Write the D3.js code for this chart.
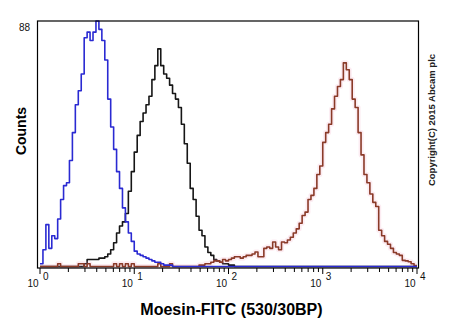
<!DOCTYPE html>
<html>
<head>
<meta charset="utf-8">
<script src="https://cdn.jsdelivr.net/npm/d3@7"></script>
<style>
  html, body { margin: 0; padding: 0; background: #fff; }
  svg { display: block; font-family: "Liberation Sans", Arial, sans-serif; }
</style>
</head>
<body>
<svg id="chart" width="450" height="330"></svg>
<script>
// Flow cytometry histogram: 128 log channels spanning 10^0 .. 10^4 (32 per decade)
const channelsPerDecade = 32;
const decades = [0, 1, 2, 3, 4];
const yMax = 88;

// Counts per channel (channel 0 .. 127)
const isotypeCounts = [
  1, 6, 15, 6.5, 11, 10, 17, 24, 29, 30, 38, 48, 58, 63, 69, 82,
  84, 81, 84, 88, 85, 81, 74, 60, 50, 42, 34, 28, 21, 16, 12, 9,
  5.5, 4.5, 4, 3.5, 3, 2.5, 2, 1.5, 1.5, 1, 0.5, 0.5, 0.5, 0, 0, 0,
  0, 0, 0, 0, 0, 0, 0, 0, 0, 0, 0, 0, 0, 0, 0, 0,
  0, 0, 0, 0, 0, 0, 0, 0, 0, 0, 0, 0, 0, 0, 0, 0,
  0, 0, 0, 0, 0, 0, 0, 0, 0, 0, 0, 0, 0, 0, 0, 0,
  0, 0, 0, 0, 0, 0, 0, 0, 0, 0, 0, 0, 0, 0, 0, 0,
  0, 0, 0, 0, 0, 0, 0, 0, 0, 0, 0, 0, 0, 0, 0, 0
];
const unstainedCounts = [
  0, 0, 0, 0, 0, 0, 0, 0, 0, 0, 0, 0, 0, 0, 0, 1,
  2.5, 2.5, 2.5, 2.5, 3, 3, 3.5, 4.5, 6, 8.5, 12, 14.5, 16, 19, 27, 34,
  41, 47, 52, 55, 58, 61, 67, 72, 78, 72, 69, 67.5, 65, 62, 60, 57,
  51, 44, 37, 28, 24, 18, 13, 11, 7, 5, 4, 2.5, 2, 1.5, 1, 1,
  0.5, 0.5, 0, 0, 0, 0, 0, 0, 0, 0, 0, 0, 0, 0, 0, 0,
  0, 0, 0, 0, 0, 0, 0, 0, 0, 0, 0, 0, 0, 0, 0, 0,
  0, 0, 0, 0, 0, 0, 0, 0, 0, 0, 0, 0, 0, 0, 0, 0,
  0, 0, 0, 0, 0, 0, 0, 0, 0, 0, 0, 0, 0, 0, 0, 0
];
const moesinCounts = [
  0, 0, 0, 0, 0, 0, 1, 0, 0, 0, 0, 0, 0, 1, 1, 0,
  1, 0, 0, 0, 0, 0, 0, 0, 0, 1, 0, 1, 0, 1, 0, 1,
  0, 0, 0, 0, 0, 0, 0, 0, 1, 0, 0, 0, 1, 0, 0, 0,
  0, 0, 0, 0, 0, 0, 0.5, 0.5, 1, 1, 1.5, 2, 2, 1.5, 2.5, 2,
  2.5, 3, 3.5, 3.5, 3, 3.5, 4, 4, 4.5, 5.2, 3.5, 3.5, 6.5, 7, 6.5, 8.8,
  7, 6, 8.8, 8.5, 9.5, 10.5, 12, 13.5, 15.5, 18.3, 19.5, 24, 25.5, 28, 33, 36,
  44.5, 48, 51, 56.5, 61, 64.5, 67, 73, 70.5, 67, 60, 57, 48, 40, 33, 30,
  26, 23, 21.5, 13, 11, 9, 8, 6.5, 5, 4.5, 4, 2.2, 2, 1.7, 1, 0.3
];

const series = [
  { name: "unstained", counts: unstainedCounts, color: "#161616" },
  { name: "moesin",    counts: moesinCounts,    color: "#8a3a28", halo: "rgba(240,150,185,0.18)" },
  { name: "isotype",   counts: isotypeCounts,   color: "#2a2ad2" }
];

const svg = d3.select("#chart");

const x = d3.scaleLog().domain([1, 1e4]).range([40, 417]);
const y = d3.scaleLinear().domain([0, yMax]).range([266.5, 21]);

const frame = { left: x(1) - 2.5, right: x(1e4) + 1.5, top: y(yMax), bottom: 268 };

// channel c covers [10^(c/32), 10^((c+1)/32))
const channelEdge = c => Math.pow(10, c / channelsPerDecade);

function stepPoints(counts) {
  const pts = counts.map((v, c) => [channelEdge(c), v]);
  pts.push([channelEdge(counts.length), counts[counts.length - 1]]);
  return pts;
}

const line = d3.line()
  .x(d => x(d[0]))
  .y(d => y(d[1]))
  .curve(d3.curveStepAfter);

const plot = svg.append("g");

series.forEach(s => {
  const pts = stepPoints(s.counts);
  if (s.halo) {
    plot.append("path")
      .attr("d", line(pts))
      .attr("fill", "none")
      .attr("stroke", s.halo)
      .attr("stroke-width", 5)
      .attr("stroke-linejoin", "round");
  }
  plot.append("path")
    .attr("d", line(pts))
    .attr("fill", "none")
    .attr("stroke", s.color)
    .attr("stroke-width", 1.6)
    .attr("stroke-linejoin", "round");
});

// plot frame
svg.append("rect")
  .attr("x", frame.left)
  .attr("y", frame.top)
  .attr("width", frame.right - frame.left)
  .attr("height", frame.bottom - frame.top)
  .attr("fill", "none")
  .attr("stroke", "#000")
  .attr("stroke-width", 1.2);

// log ticks: majors at decades, minors at 2..9
const ticks = svg.append("g").attr("stroke", "#000").attr("stroke-width", 1);
decades.forEach(k => {
  const major = Math.pow(10, k);
  ticks.append("line")
    .attr("x1", x(major)).attr("x2", x(major))
    .attr("y1", frame.bottom).attr("y2", frame.bottom + 6);
  if (k < 4) {
    d3.range(2, 10).forEach(m => {
      const v = m * major;
      ticks.append("line")
        .attr("x1", x(v)).attr("x2", x(v))
        .attr("y1", frame.bottom).attr("y2", frame.bottom + 4);
    });
  }
});

// tick labels "10" with superscript exponent
const labels = svg.append("g").attr("fill", "#111").attr("font-size", 10);
decades.forEach(k => {
  const px = x(Math.pow(10, k));
  labels.append("text")
    .attr("x", px - 1.5).attr("y", 287)
    .attr("text-anchor", "end")
    .text("10");
  labels.append("text")
    .attr("x", px + 3).attr("y", 280)
    .text(k);
});

// y max label
svg.append("text")
  .attr("x", 30).attr("y", y(yMax) + 10)
  .attr("text-anchor", "end")
  .attr("font-size", 10)
  .attr("fill", "#111")
  .text(yMax);

// axis titles
svg.append("text")
  .attr("transform", "translate(25.5,131) rotate(-90)")
  .attr("text-anchor", "middle")
  .attr("font-size", 14)
  .attr("font-weight", "bold")
  .attr("fill", "#000")
  .text("Counts");

svg.append("text")
  .attr("x", 231.5).attr("y", 315)
  .attr("text-anchor", "middle")
  .attr("font-size", 16)
  .attr("font-weight", "bold")
  .attr("fill", "#000")
  .text("Moesin-FITC (530/30BP)");

svg.append("text")
  .attr("transform", "translate(435,120) rotate(-90)")
  .attr("text-anchor", "middle")
  .attr("font-size", 9.5)
  .attr("font-weight", "bold")
  .attr("fill", "#222")
  .text("Copyright(C) 2015 Abcam plc");
</script>
</body>
</html>
